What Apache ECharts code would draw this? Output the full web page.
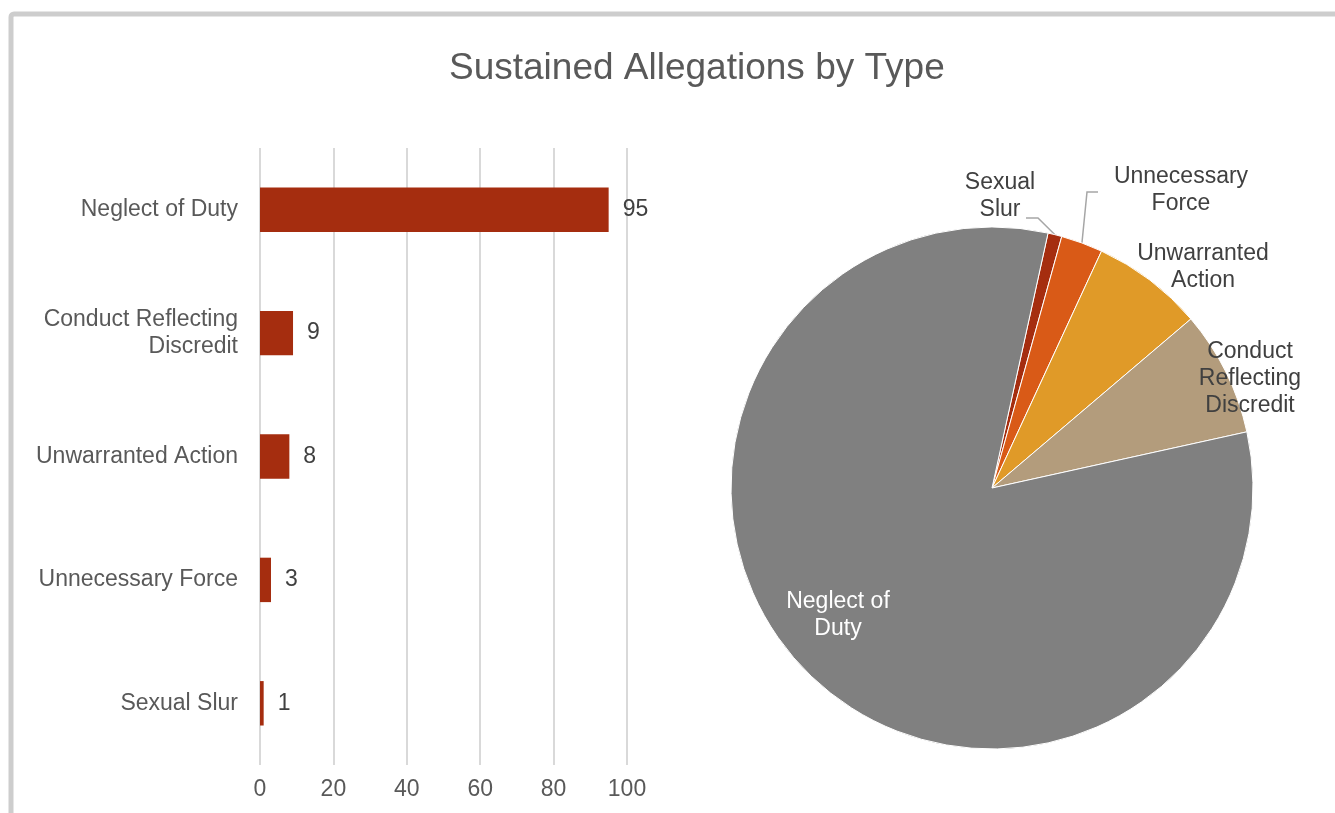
<!DOCTYPE html>
<html>
<head>
<meta charset="utf-8">
<script src="https://cdn.jsdelivr.net/npm/echarts@6/dist/echarts.min.js"></script>
<style>
  html, body { margin: 0; padding: 0; background: #fff; }
  #main { width: 1335px; height: 813px; }
</style>
</head>
<body>
<div id="main"></div>
<script>
var chartDom = document.getElementById('main');
var myChart = echarts.init(chartDom);

// categories in sheet order (first one ends up at the bottom of the bar chart)
const categories = ['Sexual Slur', 'Unnecessary Force', 'Unwarranted Action', 'Conduct Reflecting\nDiscredit', 'Neglect of Duty'];
const pieNames = ['Sexual\nSlur', 'Unnecessary\nForce', 'Unwarranted\nAction', 'Conduct\nReflecting\nDiscredit', 'Neglect of\nDuty'];
const counts = [1, 3, 8, 9, 95];
const pieColors = ['#A52D0F', '#D95A17', '#E09A28', '#B39C7C', '#808080'];
const xTicks = [0, 20, 40, 60, 80, 100];

// where Excel put the pie labels (label centre) and the leader line elbow/end
const pieLabelAt = [[1000, 196], [1181, 190], [1203, 267], [1250, 379], [838, 615]];
const pieLeader = [[[1038, 218], [1026, 218]], [[1087, 192], [1098, 192]], null, null, null];

const font = 'Liberation Sans, Arial, sans-serif';

var option = {
  animation: false,
  textStyle: { fontFamily: font },
  title: {
    text: 'Sustained Allegations by Type',
    left: 444,
    top: 45,
    textStyle: { fontSize: 37, fontWeight: 'normal', color: '#595959', fontFamily: font }
  },
  graphic: [{
    type: 'rect',
    shape: { x: 11, y: 14, width: 1400, height: 900, r: 3 },
    style: { fill: null, stroke: '#cdcdcd', lineWidth: 5 },
    silent: true
  }],
  grid: { left: 260, right: 708, top: 148, bottom: 48 },
  xAxis: {
    type: 'value',
    min: xTicks[0],
    max: xTicks[xTicks.length - 1],
    interval: 20,
    axisLine: { show: false },
    axisTick: { show: false },
    splitLine: { lineStyle: { color: '#d9d9d9', width: 2 } },
    axisLabel: { fontSize: 23, color: '#595959', margin: 13, fontFamily: font }
  },
  yAxis: {
    type: 'category',
    data: categories,
    axisLine: { show: false },
    axisTick: { show: false },
    axisLabel: { fontSize: 23, color: '#595959', margin: 22, lineHeight: 27, align: 'right', fontFamily: font }
  },
  series: [{
    type: 'bar',
    data: counts,
    barWidth: '36%',
    itemStyle: { color: '#A52D0F' },
    label: { show: true, position: 'right', distance: 14, fontSize: 23, color: '#404040', fontFamily: font }
  }, {
    type: 'pie',
    center: [992, 488],
    radius: 261,
    startAngle: 77.6,
    clockwise: true,
    itemStyle: { borderColor: '#fff', borderWidth: 1 },
    label: {
      show: true, position: 'outside', fontSize: 23, color: '#404040', lineHeight: 27,
      overflow: 'none', align: 'center', fontFamily: font
    },
    labelLine: { show: true, lineStyle: { color: '#a6a6a6', width: 1.5 } },
    labelLayout: function (p) {
      const at = pieLabelAt[p.dataIndex];
      const res = { x: at[0], y: at[1], align: 'center', verticalAlign: 'middle', hideOverlap: false };
      const leg = pieLeader[p.dataIndex];
      if (leg && p.labelLinePoints) {
        res.labelLinePoints = [p.labelLinePoints[0], leg[0], leg[1]];
      }
      return res;
    },
    data: counts.map((v, i) => {
      const item = { name: pieNames[i], value: v, itemStyle: { color: pieColors[i] } };
      if (i === counts.length - 1) {
        item.label = { position: 'inside', color: '#ffffff' };
        item.labelLine = { show: false };
      } else if (!pieLeader[i]) {
        item.labelLine = { show: false };
      }
      return item;
    })
  }]
};

myChart.setOption(option);
</script>
</body>
</html>
